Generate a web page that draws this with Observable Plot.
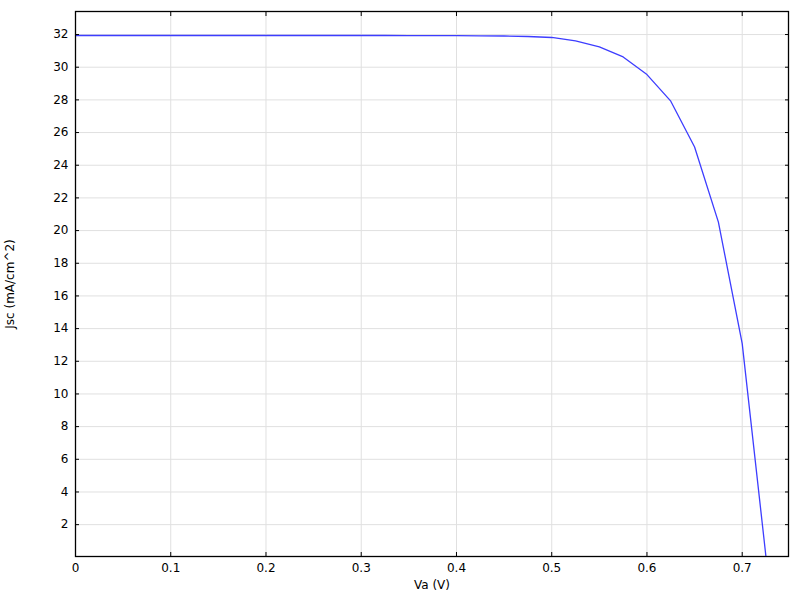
<!DOCTYPE html>
<html>
<head>
<meta charset="utf-8">
<script src="https://cdn.jsdelivr.net/npm/d3@7"></script>
<script src="https://cdn.jsdelivr.net/npm/@observablehq/plot@0.6"></script>
<style>
  html, body { margin: 0; padding: 0; background: #fff; }
  svg { font-family: "DejaVu Sans", sans-serif; }
</style>
</head>
<body>
<div id="chart"></div>
<script>
const va = [0, 0.025, 0.05, 0.075, 0.1, 0.125, 0.15, 0.175, 0.2, 0.225, 0.25, 0.275, 0.3, 0.325, 0.35, 0.375, 0.4, 0.425, 0.45, 0.475, 0.5, 0.525, 0.55, 0.575, 0.6, 0.625, 0.65, 0.675, 0.7, 0.725];
const jsc = [31.94, 31.94, 31.94, 31.94, 31.94, 31.94, 31.94, 31.94, 31.94, 31.94, 31.94, 31.94, 31.94, 31.94, 31.93, 31.93, 31.93, 31.92, 31.91, 31.88, 31.82, 31.61, 31.24, 30.63, 29.55, 27.92, 25.12, 20.52, 13.08, 0.0];
const xTicks = [0, 0.1, 0.2, 0.3, 0.4, 0.5, 0.6, 0.7];
const yTicks = [2, 4, 6, 8, 10, 12, 14, 16, 18, 20, 22, 24, 26, 28, 30, 32];

const data = va.map((v, i) => ({va: v, jsc: jsc[i]}));

const plot = Plot.plot({
  width: 800,
  height: 600,
  marginLeft: 75,
  marginRight: 12,
  marginTop: 11,
  marginBottom: 44,
  style: {fontSize: "12px", fontFamily: "DejaVu Sans, sans-serif", color: "#000", background: "#fff"},
  x: {domain: [0, 0.7486]},
  y: {domain: [0.05, 33.41]},
  marks: [
    Plot.gridX(xTicks, {stroke: "#e0e0e0", strokeOpacity: 1}),
    Plot.gridY(yTicks, {stroke: "#e0e0e0", strokeOpacity: 1}),
    Plot.line(data, {x: "va", y: "jsc", stroke: "#3d3dff", strokeWidth: 1.3, clip: true}),
    Plot.frame({stroke: "#000", strokeWidth: 1.3}),
    Plot.axisX(xTicks, {anchor: "bottom", tickSize: 0, tickPadding: 7, tickFormat: d => String(d), label: "Va (V)", labelAnchor: "center", labelOffset: 32, labelArrow: "none"}),
    Plot.axisY(yTicks, {anchor: "left", tickSize: 0, tickPadding: 7, tickFormat: d => String(d), label: "Jsc (mA/cm^2)", labelAnchor: "center", labelOffset: 70, labelArrow: "none"}),
    Plot.axisX(xTicks, {anchor: "bottom", tickSize: -4, fill: "none", label: null, stroke: "#000"}),
    Plot.axisX(xTicks, {anchor: "top", tickSize: -4, fill: "none", label: null, stroke: "#000"}),
    Plot.axisY(yTicks, {anchor: "left", tickSize: -4, fill: "none", label: null, stroke: "#000"}),
    Plot.axisY(yTicks, {anchor: "right", tickSize: -4, fill: "none", label: null, stroke: "#000"})
  ]
});
document.getElementById("chart").appendChild(plot);
</script>
</body>
</html>
